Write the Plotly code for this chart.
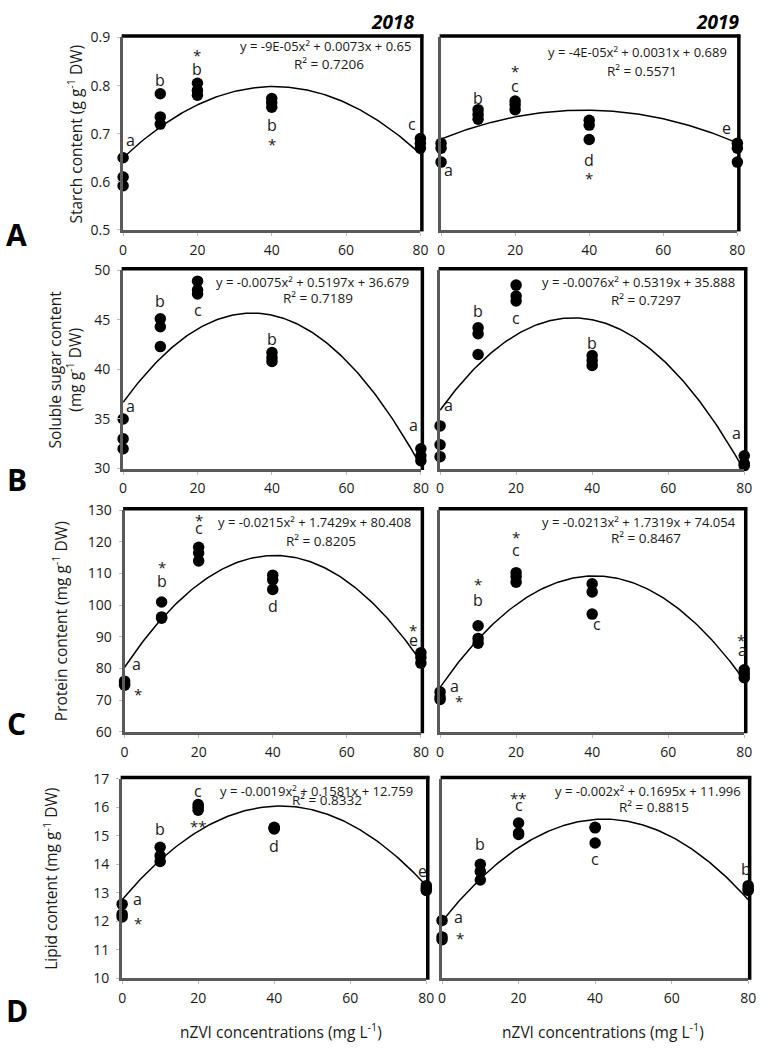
import plotly.graph_objects as go

W, H = 768, 1054

# ---------------- data ----------------
conc = [0, 10, 20, 40, 80]
x_ticks = [0, 20, 40, 60, 80]

starch_2018 = [[0.65, 0.61, 0.592], [0.783, 0.735, 0.72], [0.805, 0.79, 0.78], [0.773, 0.765, 0.755], [0.69, 0.68, 0.67]]
starch_2019 = [[0.68, 0.67, 0.641], [0.75, 0.74, 0.73], [0.768, 0.76, 0.75], [0.728, 0.718, 0.688], [0.68, 0.67, 0.641]]
sugar_2018 = [[35.0, 33.0, 32.0], [45.1, 44.3, 42.3], [48.9, 48.0, 47.6], [41.7, 41.2, 40.8], [32.0, 31.3, 30.8]]
sugar_2019 = [[34.3, 32.4, 31.2], [44.2, 43.6, 41.5], [48.5, 47.4, 46.9], [41.4, 40.9, 40.4], [31.3, 30.5, 30.3]]
protein_2018 = [[76.0, 75.2, 74.7], [101.0, 96.3, 95.9], [118.3, 116.5, 114.0], [109.5, 108.0, 105.0], [85.0, 83.5, 81.7]]
protein_2019 = [[72.6, 71.0, 70.2], [93.5, 89.5, 88.0], [110.3, 109.0, 107.3], [106.8, 104.2, 97.2], [79.6, 78.3, 77.1]]
lipid_2018 = [[12.6, 12.25, 12.15], [14.6, 14.3, 14.1], [16.1, 16.0, 15.9], [15.3, 15.27, 15.24], [13.25, 13.15, 13.08]]
lipid_2019 = [[12.03, 11.45, 11.35], [14.0, 13.75, 13.45], [15.45, 15.1, 15.05], [15.3, 15.28, 14.75], [13.25, 13.15, 13.08]]

# quadratic trendline coefficients (a, b, c) as displayed
fit_starch_2018 = [-9e-05, 0.0073, 0.65]
fit_starch_2019 = [-4e-05, 0.0031, 0.689]
fit_sugar_2018 = [-0.0075, 0.5197, 36.679]
fit_sugar_2019 = [-0.0076, 0.5319, 35.888]
fit_protein_2018 = [-0.0215, 1.7429, 80.408]
fit_protein_2019 = [-0.0213, 1.7319, 74.054]
fit_lipid_2018 = [-0.0019, 0.1581, 12.759]
fit_lipid_2019 = [-0.002, 0.1695, 11.996]

eq_text = [
    "y = -9E-05x² + 0.0073x + 0.65", "y = -4E-05x² + 0.0031x + 0.689",
    "y = -0.0075x² + 0.5197x + 36.679", "y = -0.0076x² + 0.5319x + 35.888",
    "y = -0.0215x² + 1.7429x + 80.408", "y = -0.0213x² + 1.7319x + 74.054",
    "y = -0.0019x² + 0.1581x + 12.759", "y = -0.002x² + 0.1695x + 11.996",
]
r2_text = ["R² = 0.7206", "R² = 0.5571", "R² = 0.7189", "R² = 0.7297",
           "R² = 0.8205", "R² = 0.8467", "R² = 0.8332", "R² = 0.8815"]

y_titles = ["Starch content (g g<sup>-1</sup> DW)",
            "Soluble sugar content<br>(mg g<sup>-1</sup> DW)",
            "Protein content (mg g<sup>-1</sup> DW)",
            "Lipid content (mg g<sup>-1</sup> DW)"]
y_ranges = [[0.5, 0.9], [30, 50], [60, 130], [10, 17]]
y_ticks = [[0.5, 0.6, 0.7, 0.8, 0.9], [30, 35, 40, 45, 50],
           [60, 70, 80, 90, 100, 110, 120, 130], [10, 11, 12, 13, 14, 15, 16, 17]]
y_ticktext = [["0.5", "0.6", "0.7", "0.8", "0.9"], ["30", "35", "40", "45", "50"],
              ["60", "70", "80", "90", "100", "110", "120", "130"],
              ["10", "11", "12", "13", "14", "15", "16", "17"]]
years = ["2018", "2019"]
panel_letters = ["A", "B", "C", "D"]
x_title = "nZVI concentrations (mg L<sup>-1</sup>)"

# significance labels: (x, y, text)
sig_A_2018 = [(1.9, 0.688, "a"), (10, 0.811, "b"), (20, 0.872, "*"), (20, 0.835, "b"),
              (40, 0.718, "b"), (40, 0.688, "*"), (77.8, 0.72, "c")]
sig_A_2019 = [(2.1, 0.624, "a"), (10, 0.775, "b"), (20, 0.80, "c"), (20, 0.838, "*"),
              (40, 0.645, "d"), (40, 0.617, "*"), (77.0, 0.712, "e")]
sig_B_2018 = [(1.9, 36.3, "a"), (10, 46.9, "b"), (20, 46.0, "c"), (40, 43.1, "b"), (78, 34.4, "a")]
sig_B_2019 = [(2.1, 36.4, "a"), (10, 45.9, "b"), (20, 45.2, "c"), (40, 42.7, "b"), (78, 33.6, "a")]
sig_C_2018 = [(3.1, 81.4, "a"), (3.7, 73.3, "*"), (10, 113.3, "*"), (10, 107.5, "b"),
              (20, 128.3, "*"), (20, 124.4, "c"), (40, 99.8, "d"), (78, 93.4, "*"), (78, 89.0, "e")]
sig_C_2019 = [(3.7, 74.6, "a"), (4.9, 70.9, "*"), (10, 107.9, "*"), (10, 101.6, "b"),
              (20, 122.8, "*"), (20, 117.4, "c"), (41.3, 94.1, "c"), (79.2, 90.3, "*"), (79.5, 85.9, "a")]
sig_D_2018 = [(4.0, 12.77, "a"), (4.1, 12.07, "*"), (10, 15.24, "b"), (20, 16.59, "c"),
              (20, 15.49, "**"), (40, 14.63, "d"), (79.0, 13.77, "e")]
sig_D_2019 = [(4.2, 12.14, "a"), (4.7, 11.57, "*"), (10, 14.72, "b"), (20, 16.47, "**"),
              (20, 16.07, "c"), (40, 14.17, "c"), (79.5, 13.83, "b")]

panels = [
    (starch_2018, fit_starch_2018, sig_A_2018), (starch_2019, fit_starch_2019, sig_A_2019),
    (sugar_2018, fit_sugar_2018, sig_B_2018), (sugar_2019, fit_sugar_2019, sig_B_2019),
    (protein_2018, fit_protein_2018, sig_C_2018), (protein_2019, fit_protein_2019, sig_C_2019),
    (lipid_2018, fit_lipid_2018, sig_D_2018), (lipid_2019, fit_lipid_2019, sig_D_2019),
]

# ---------------- layout geometry (pixels) ----------------
rows_px = [(28, 224), (265, 467), (509.5, 735), (783, 986)]
cols_by_row = [
    [(121, 423), (444, 745)],
    [(121, 423.5), (443, 752)],
    [(122.5, 423.5), (443, 752)],
    [(120, 429), (445, 756)],
]
# equation: (right edge x, y) ; R²: (center x, y)
eq_pos = [((415, 37), (330, 55)), ((737, 43), (648, 62)),
          ((413, 277), (319, 293)), ((745, 277), (652, 295)),
          ((415, 521), (322, 541)), ((746, 521), (652, 538)),
          ((418, 795), (328, 805)), ((751, 795), (660, 812))]
y_title_px = [72, 62, 57, 47]
letter_py = [229, 478, 727, 1019]


def px(xp):
    return xp / W


def py(yp):
    return 1 - yp / H


FONT = "Open Sans"
TXT = "#1a1a1a"
AXIS_GRAY = "#5a5a5a"

fig = go.Figure()
layout = dict(
    width=W, height=H, margin=dict(l=0, r=0, t=0, b=0),
    paper_bgcolor="white", plot_bgcolor="rgba(0,0,0,0)", showlegend=False,
    font=dict(family=FONT, color=TXT),
)
annotations = []
shapes = []

curve_x = [i * 0.5 for i in range(161)]

for k, (data, fit, sig) in enumerate(panels):
    r, c = divmod(k, 2)
    idx = "" if k == 0 else str(k + 1)
    xa, ya = "x" + idx, "y" + idx
    xs, ys = [], []
    for xv, grp in zip(conc, data):
        for v in grp:
            xs.append(xv)
            ys.append(v)
    a, b, cc = fit
    cy = [a * xx * xx + b * xx + cc for xx in curve_x]
    fig.add_trace(go.Scatter(x=curve_x, y=cy, mode="lines", xaxis=xa, yaxis=ya,
                             line=dict(color="black", width=1.5), hoverinfo="skip",
                             cliponaxis=True))
    fig.add_trace(go.Scatter(x=xs, y=ys, mode="markers", xaxis=xa, yaxis=ya,
                             marker=dict(color="black", size=11.5), cliponaxis=False))
    x0, x1 = cols_by_row[r][c]
    y0, y1 = rows_px[r]
    layout["xaxis" + idx] = dict(
        domain=[px(x0), px(x1)], anchor=ya, range=[0, 80], tickvals=x_ticks,
        ticks="outside", ticklen=3, tickcolor="#bbbbbb", tickfont=dict(size=14, color=TXT),
        ticklabelstandoff=2,
        showline=True, linecolor=AXIS_GRAY, linewidth=3, mirror=False,
        showgrid=False, zeroline=False, fixedrange=True,
    )
    yd = dict(
        domain=[py(y1), py(y0)], anchor=xa, range=y_ranges[r],
        showline=True, linecolor=AXIS_GRAY, linewidth=3, mirror=False,
        showgrid=False, zeroline=False, fixedrange=True,
    )
    if c == 0:
        yd.update(tickvals=y_ticks[r], ticktext=y_ticktext[r], ticks="outside", ticklen=3,
                  tickcolor="#bbbbbb", tickfont=dict(size=14, color=TXT), ticklabelstandoff=4)
    else:
        yd.update(showticklabels=False, ticks="")
    layout["yaxis" + idx] = yd

    # black top and right frame (beneath the markers)
    shapes.append(dict(type="line", xref="paper", yref="paper", layer="below",
                       x0=px(x0 - 1.5), x1=px(x1 + 3), y0=py(y0 - 1.5), y1=py(y0 - 1.5),
                       line=dict(color="black", width=3.5)))
    shapes.append(dict(type="line", xref="paper", yref="paper", layer="below",
                       x0=px(x1 + 1.5), x1=px(x1 + 1.5), y0=py(y0 - 3), y1=py(y1 + 1.5),
                       line=dict(color="black", width=3.5)))

    # significance letters
    for (sx, sy, st) in sig:
        star = "*" in st
        annotations.append(dict(
            x=sx, y=sy, xref=xa, yref=ya, text=st, showarrow=False,
            font=dict(size=15 if star else 16, color=TXT),
            xanchor="center", yanchor="middle", yshift=-4 if star else 0,
        ))
    # equations
    (ex, ey), (rx, ry) = eq_pos[k]
    annotations.append(dict(x=px(ex), y=py(ey), xref="paper", yref="paper", text=eq_text[k],
                            showarrow=False, font=dict(size=13, color=TXT),
                            xanchor="right", yanchor="middle"))
    annotations.append(dict(x=px(rx), y=py(ry), xref="paper", yref="paper", text=r2_text[k],
                            showarrow=False, font=dict(size=13.5, color=TXT),
                            xanchor="center", yanchor="middle"))

# y titles, panel letters
for r in range(4):
    y0, y1 = rows_px[r]
    annotations.append(dict(x=px(y_title_px[r]), y=py((y0 + y1) / 2), xref="paper", yref="paper",
                            text=y_titles[r], textangle=-90, showarrow=False,
                            font=dict(size=15.5, color=TXT), xanchor="center", yanchor="middle"))
    annotations.append(dict(x=px(13), y=py(letter_py[r]), xref="paper", yref="paper",
                            text="<b>" + panel_letters[r] + "</b>", showarrow=False,
                            font=dict(size=30, color="black"), xanchor="center", yanchor="middle"))

# year labels
for xc, yl in zip([395, 725], years):
    annotations.append(dict(x=px(xc), y=py(12), xref="paper", yref="paper",
                            text="<b><i>" + yl + "</i></b>", showarrow=False,
                            font=dict(size=19, color="black"), xanchor="center", yanchor="middle"))

# x titles
for xc in [281, 608]:
    annotations.append(dict(x=px(xc), y=py(1040), xref="paper", yref="paper", text=x_title,
                            showarrow=False, font=dict(size=15.5, color=TXT),
                            xanchor="center", yanchor="middle"))

layout["annotations"] = annotations
layout["shapes"] = shapes
fig.update_layout(**layout)
fig.write_html("out.html", config={"displayModeBar": False},
               post_script="document.body.style.margin='0px';document.body.style.padding='0px';")
